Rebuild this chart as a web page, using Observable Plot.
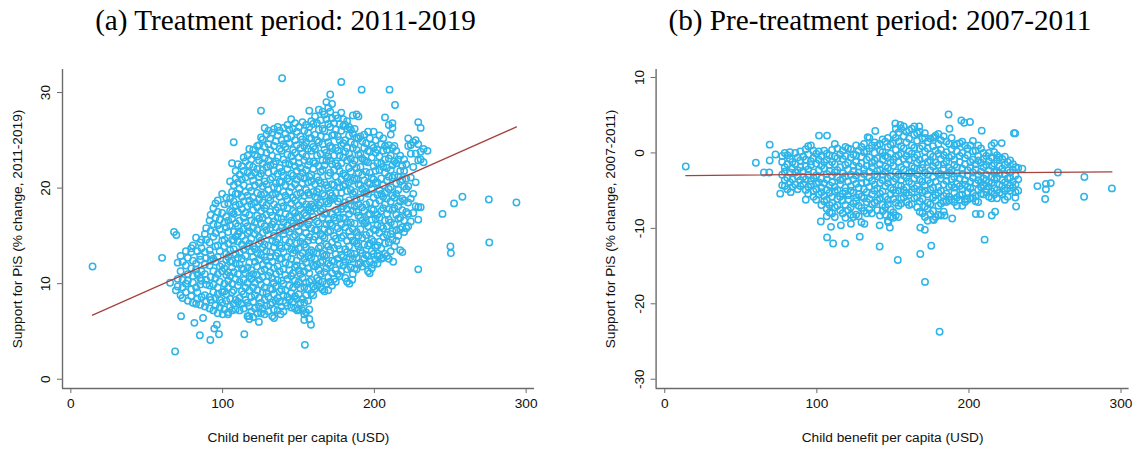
<!DOCTYPE html>
<html>
<head>
<meta charset="utf-8">
<script src="https://cdn.jsdelivr.net/npm/d3@7"></script>
<script src="https://cdn.jsdelivr.net/npm/@observablehq/plot@0.6"></script>
<style>
  body { margin: 0; background: white; }
  #chart { display: flex; width: 1140px; height: 453px; }
  #chart svg { display: block; }
</style>
</head>
<body>
<div id="chart"></div>
<script>
// tick values and labels
const benefitTicks = [0, 100, 200, 300];
const supportTicksA = [0, 10, 20, 30];
const supportTicksB = [10, 0, -10, -20, -30];
const xLabel = "Child benefit per capita (USD)";

// fitted lines (end points at min / max benefit)
const fitA = [[14.3, 6.7], [293.6, 26.4]];
const fitB = [[13.8, -3.0], [294.0, -2.5]];

// panel (a): isolated municipalities
const outliersA = [
  [14.3, 11.8], [60.1, 12.7], [65.4, 10.1], [68.0, 15.4], [69.5, 15.1], [69.2, 9.3],
  [72.6, 6.6], [68.7, 2.9], [81.4, 5.9], [85.0, 4.6], [91.9, 4.1], [97.6, 4.7],
  [96.2, 5.7], [94.5, 5.3], [87.1, 6.4], [114.3, 4.7], [154.2, 3.6], [158.2, 5.7],
  [210.0, 30.3], [213.6, 28.7], [244.9, 17.3], [252.5, 18.4], [258.0, 19.1],
  [275.4, 18.8], [293.6, 18.5], [275.7, 14.3], [250.1, 13.9], [250.4, 13.2],
  [212.4, 12.3], [202.1, 12.1], [196.9, 11.1], [185.4, 10.4], [183.5, 10.0],
  [149.2, 7.2], [138.2, 6.8], [133.9, 6.4], [123.9, 6.0], [117.4, 6.6], [100.0, 6.8], [103.6, 6.8]
];

// panel (a): the main cloud, grouped by benefit (x) with the support values (y) at that x
const columnsA = [
  [70.4, [9.7, 10.5, 12.2]],
  [72.3, [8.8, 11.3, 12.9]],
  [73.6, [8.5, 9.6, 10.4, 12.3]],
  [75.8, [9.1, 10.0, 11.9, 13.4]],
  [77.1, [8.2, 10.3, 11.0, 12.7]],
  [79.3, [8.7, 9.4, 11.6, 13.3, 13.7]],
  [80.4, [8.0, 10.1, 10.8, 12.4, 14.0]],
  [82.5, [7.9, 9.6, 11.5, 12.1, 14.8]],
  [83.4, [8.4, 9.1, 11.0, 13.4]],
  [85.2, [7.8, 9.9, 10.6, 12.5, 12.9, 14.3]],
  [86.1, [8.6, 10.3, 11.3, 13.7, 14.6]],
  [88.3, [7.6, 8.8, 11.0, 12.0, 13.3, 15.2]],
  [89.2, [8.1, 9.9, 10.4, 12.7, 14.6, 15.8]],
  [91.4, [7.4, 8.6, 9.8, 11.9, 13.5, 14.3, 16.6]],
  [92.1, [8.3, 10.7, 12.4, 13.0, 15.5, 17.2]],
  [93.9, [7.2, 9.1, 9.9, 11.3, 12.6, 14.9, 16.2, 17.9]],
  [95.3, [7.7, 8.5, 10.6, 12.3, 13.9, 15.3, 16.9, 18.4]],
  [96.8, [6.9, 8.9, 9.6, 11.0, 12.8, 14.0, 16.1, 17.5, 18.7]],
  [98.1, [7.5, 8.3, 10.2, 11.8, 13.4, 15.7, 16.7]],
  [99.7, [8.0, 9.1, 11.3, 12.0, 14.5, 15.1, 17.4, 19.4]],
  [101.2, [7.3, 9.2, 10.0, 11.6, 13.9, 14.6, 16.4, 18.3]],
  [102.4, [8.2, 8.9, 10.9, 12.5, 13.1, 15.9, 17.0, 19.0]],
  [103.7, [7.0, 9.6, 10.3, 11.2, 12.8, 14.2, 15.4, 16.6, 18.4]],
  [104.9, [7.6, 8.4, 10.8, 12.3, 13.5, 16.1, 17.6, 18.9, 20.7]],
  [106.2, [7.2, 9.1, 10.0, 11.7, 12.4, 14.6, 16.8, 17.5, 19.6, 22.6]],
  [107.3, [7.9, 9.3, 11.2, 13.6, 14.5, 15.4, 17.3, 18.6, 20.3, 24.8]],
  [108.6, [7.3, 8.3, 10.5, 12.1, 13.1, 14.9, 16.3, 18.2, 19.4, 21.0, 21.8]],
  [110.1, [8.1, 9.8, 11.0, 12.7, 14.4, 15.2, 16.0, 17.5, 19.4, 20.6, 22.5]],
  [111.2, [7.2, 8.5, 10.2, 12.0, 13.3, 15.5, 16.6, 18.3, 19.9, 21.4]],
  [112.7, [7.9, 9.2, 11.6, 12.6, 14.1, 15.0, 17.8, 19.1, 20.9, 22.3]],
  [113.9, [7.4, 8.9, 10.4, 11.5, 13.6, 15.7, 16.9, 18.6, 20.3, 21.8, 23.2]],
  [115.1, [8.3, 9.6, 11.1, 12.9, 14.5, 16.4, 17.4, 19.6, 21.1, 22.8]],
  [116.4, [6.6, 8.0, 10.1, 11.7, 13.9, 15.3, 16.0, 18.1, 19.2, 21.6, 23.4]],
  [117.6, [6.3, 7.6, 9.3, 10.8, 12.2, 14.2, 15.5, 17.2, 18.7, 20.1, 22.4, 24.1]],
  [118.9, [7.1, 8.6, 10.5, 11.4, 13.4, 14.7, 16.6, 18.3, 19.7, 21.3, 23.0]],
  [120.1, [6.5, 8.1, 9.6, 11.0, 12.8, 13.9, 15.9, 17.7, 19.0, 20.8, 22.2, 24.0]],
  [121.3, [7.4, 8.8, 10.1, 12.3, 13.6, 15.2, 16.4, 18.5, 20.3, 21.6, 23.5]],
  [122.8, [6.9, 9.3, 10.9, 11.8, 13.2, 15.6, 17.1, 18.0, 19.5, 22.0, 23.3, 24.4]],
  [124.0, [7.6, 8.5, 10.4, 12.5, 14.2, 14.9, 16.8, 18.8, 20.5, 21.2, 22.9, 24.5]],
  [125.3, [6.9, 8.0, 9.9, 11.3, 13.0, 14.5, 16.3, 17.6, 19.3, 21.5, 23.8, 25.3, 28.1]],
  [126.4, [7.4, 9.1, 10.7, 12.0, 13.8, 15.3, 16.9, 18.5, 20.2, 21.9, 22.6, 25.1]],
  [127.7, [6.8, 8.3, 9.6, 11.5, 12.8, 14.1, 16.0, 17.9, 19.4, 20.7, 23.1, 24.3, 26.3]],
  [128.9, [7.7, 9.0, 10.2, 12.4, 13.4, 15.6, 17.2, 18.2, 20.4, 22.2, 23.7, 25.6]],
  [130.2, [7.1, 8.6, 10.8, 11.9, 14.0, 15.1, 16.6, 19.0, 19.8, 21.6, 22.9, 24.6, 26.0]],
  [131.4, [7.8, 9.5, 11.2, 12.8, 13.3, 15.8, 17.5, 18.7, 20.9, 22.4, 24.0, 25.2]],
  [132.7, [6.6, 8.0, 9.4, 10.6, 12.3, 14.5, 16.2, 17.1, 19.3, 21.1, 23.4, 25.8]],
  [133.8, [7.3, 8.9, 10.1, 11.6, 13.8, 15.0, 16.5, 18.3, 20.1, 21.8, 22.5, 24.4, 26.2]],
  [135.1, [8.2, 9.7, 11.0, 12.9, 14.3, 15.9, 17.7, 19.4, 20.5, 22.8, 24.9]],
  [136.3, [7.2, 8.5, 10.4, 11.8, 13.2, 14.7, 16.9, 18.0, 19.9, 21.5, 23.2, 25.5, 26.4]],
  [137.6, [8.1, 9.2, 11.3, 12.6, 14.0, 15.5, 17.4, 19.1, 20.7, 22.1, 24.1, 26.0]],
  [138.8, [7.6, 9.4, 10.3, 12.6, 13.7, 15.9, 16.8, 18.5, 20.6, 21.7, 23.9, 25.0]],
  [139.2, [31.5]],
  [140.1, [7.1, 8.8, 10.0, 11.5, 13.3, 15.2, 16.4, 18.1, 19.6, 21.3, 23.0, 24.6, 26.3]],
  [141.4, [8.0, 9.3, 10.9, 12.2, 14.6, 15.6, 17.3, 19.2, 20.3, 22.6, 24.3, 25.7]],
  [142.7, [7.7, 8.6, 10.5, 12.8, 13.9, 16.1, 17.9, 18.8, 21.0, 22.0, 23.5, 25.2, 26.6]],
  [143.9, [8.3, 9.8, 11.4, 12.0, 14.3, 15.4, 17.0, 19.6, 20.7, 22.5, 24.7, 26.1]],
  [145.2, [7.5, 9.0, 10.8, 12.6, 13.6, 15.8, 16.6, 18.4, 20.1, 21.5, 23.3, 25.4, 27.2]],
  [146.4, [8.1, 9.6, 11.1, 13.2, 14.9, 16.3, 17.6, 19.0, 21.3, 22.8, 24.0, 26.2]],
  [147.7, [7.4, 8.7, 10.3, 11.7, 13.5, 15.1, 17.4, 18.7, 20.4, 22.3, 23.7, 25.0, 26.8]],
  [148.9, [8.4, 9.9, 11.9, 12.4, 14.2, 16.0, 16.9, 19.3, 20.9, 21.8, 24.5, 25.9]],
  [150.2, [7.3, 8.9, 10.2, 11.4, 13.7, 15.5, 17.0, 18.2, 20.0, 22.6, 23.2, 26.4]],
  [151.3, [8.0, 9.5, 11.0, 12.9, 14.4, 16.3, 17.8, 19.5, 21.2, 22.1, 24.2, 25.4]],
  [152.6, [7.2, 8.4, 10.6, 11.8, 13.2, 14.8, 16.6, 18.6, 20.5, 21.6, 23.6, 25.1, 26.9]],
  [153.8, [6.2, 6.8, 8.0, 9.6, 11.3, 12.6, 14.1, 15.9, 17.4, 19.2, 21.0, 22.9, 24.4, 26.0]],
  [155.0, [7.0, 8.8, 10.1, 12.2, 13.8, 15.3, 17.1, 18.3, 19.8, 21.9, 23.3, 24.8, 26.6]],
  [156.3, [8.2, 9.4, 11.6, 12.9, 14.5, 16.2, 17.7, 19.5, 20.6, 22.4, 24.1, 25.8]],
  [157.1, [6.3, 7.3, 10.2, 11.1, 13.3, 14.9, 16.6, 18.0, 19.3, 21.2, 22.8, 25.2, 26.4, 28.1]],
  [158.4, [9.0, 10.4, 12.7, 13.5, 15.8, 17.6, 18.3, 20.7, 21.4, 23.9, 25.2, 27.0]],
  [159.7, [8.8, 9.7, 11.9, 13.3, 14.6, 17.0, 18.1, 19.6, 22.0, 22.8, 24.3, 26.7]],
  [160.9, [9.5, 11.8, 12.6, 14.9, 15.6, 17.9, 19.1, 20.4, 22.6, 24.1, 25.6, 27.5]],
  [162.2, [9.8, 10.6, 12.0, 13.2, 15.6, 16.5, 18.9, 19.6, 21.2, 23.4, 25.0, 26.8]],
  [163.4, [10.3, 11.4, 13.7, 14.5, 16.3, 18.2, 19.9, 20.8, 22.3, 24.8, 26.1, 28.2]],
  [164.6, [9.6, 11.0, 12.2, 13.9, 15.2, 17.6, 18.5, 20.5, 21.7, 23.6, 25.4, 27.1]],
  [165.9, [9.4, 10.2, 12.4, 13.1, 15.0, 16.9, 17.8, 19.4, 21.9, 22.9, 24.6, 26.2, 28.0]],
  [167.1, [9.2, 11.2, 12.9, 14.8, 15.7, 17.3, 19.2, 20.6, 22.4, 24.0, 26.0, 27.7]],
  [168.4, [10.0, 11.6, 13.0, 14.1, 16.2, 17.4, 18.6, 20.3, 22.9, 23.7, 25.3, 27.2, 29.0]],
  [169.6, [9.3, 10.7, 12.1, 13.9, 15.4, 16.7, 18.4, 20.0, 21.3, 23.3, 24.8, 26.7, 28.4]],
  [170.9, [10.2, 11.9, 13.5, 15.5, 16.3, 18.7, 19.5, 21.6, 22.9, 24.4, 26.4, 28.0, 29.8]],
  [172.1, [9.8, 11.1, 12.4, 14.3, 16.1, 17.3, 19.2, 20.4, 22.5, 24.2, 25.5, 27.3, 28.8]],
  [173.4, [10.5, 12.3, 13.7, 15.0, 16.9, 18.9, 20.3, 21.9, 23.4, 25.6, 26.8]],
  [174.6, [10.2, 11.4, 13.1, 14.7, 16.6, 17.7, 19.5, 21.2, 22.6, 24.2, 26.1, 27.6]],
  [175.9, [11.0, 12.6, 14.0, 15.8, 17.5, 18.6, 20.6, 22.3, 23.9, 25.4, 27.3]],
  [177.1, [10.8, 12.1, 13.6, 15.4, 16.8, 18.9, 20.1, 21.8, 23.4, 25.0, 26.7]],
  [178.2, [11.3, 13.0, 14.8, 16.2, 17.8, 19.5, 20.9, 22.6, 24.5, 26.0, 27.9, 31.1]],
  [179.5, [11.9, 12.8, 15.0, 16.9, 18.1, 20.2, 21.5, 23.2, 24.7, 26.5, 27.2]],
  [180.8, [10.6, 12.3, 13.6, 15.9, 16.8, 18.5, 20.4, 21.3, 23.8, 25.0, 26.6]],
  [182.0, [10.2, 11.5, 13.3, 14.5, 16.4, 17.8, 19.7, 21.1, 22.9, 24.2, 26.2, 27.0]],
  [183.3, [12.5, 13.9, 15.5, 17.3, 18.7, 20.6, 22.1, 23.6, 25.5, 26.4]],
  [184.5, [11.7, 13.2, 14.9, 16.4, 18.2, 19.8, 21.7, 23.1, 24.8, 26.1]],
  [185.8, [11.0, 12.6, 14.5, 15.7, 17.6, 19.4, 20.8, 22.5, 24.2, 25.7, 27.6]],
  [187.0, [11.6, 13.1, 14.4, 16.3, 18.1, 19.6, 21.0, 22.9, 24.6, 26.2]],
  [188.3, [11.5, 12.7, 14.2, 15.4, 17.5, 18.8, 20.9, 22.1, 24.0, 25.3, 27.7]],
  [189.5, [12.0, 13.9, 15.0, 17.1, 18.3, 20.4, 21.6, 23.5, 25.2, 27.5]],
  [190.8, [12.2, 13.5, 15.7, 16.9, 19.0, 20.3, 22.2, 23.6, 25.4]],
  [191.6, [30.3]],
  [192.0, [11.8, 13.2, 14.8, 16.6, 18.0, 19.9, 21.4, 23.1, 24.9]],
  [193.3, [12.6, 14.1, 16.3, 17.6, 19.5, 20.8, 22.9, 24.2, 25.6]],
  [194.5, [12.1, 13.0, 15.1, 16.4, 18.3, 19.6, 21.7, 22.8, 24.7]],
  [195.8, [11.3, 12.9, 14.0, 16.0, 17.2, 19.4, 20.6, 22.7, 23.9, 25.9]],
  [197.0, [12.3, 14.2, 15.3, 17.3, 18.5, 20.4, 21.6, 23.8, 25.2]],
  [198.3, [11.6, 13.4, 14.6, 16.7, 17.8, 19.9, 21.1, 23.2, 24.5]],
  [199.5, [12.0, 13.1, 14.4, 15.7, 17.7, 19.0, 20.9, 22.3, 24.2, 25.9]],
  [200.8, [12.5, 13.8, 15.6, 16.8, 18.4, 20.5, 21.8, 23.7, 25.0]],
  [202.0, [12.9, 14.0, 16.1, 17.2, 19.3, 20.6, 22.6, 24.0]],
  [203.3, [12.9, 14.4, 15.3, 16.9, 18.7, 19.8, 21.9, 23.3, 25.5]],
  [204.5, [12.6, 13.7, 16.0, 17.6, 19.4, 21.0, 22.6, 24.6]],
  [205.8, [12.7, 14.9, 15.8, 17.9, 19.1, 20.3, 22.2, 23.9, 25.2]],
  [207.0, [13.1, 14.2, 16.6, 18.3, 19.5, 21.6, 23.0, 24.4, 27.4]],
  [208.3, [12.9, 15.1, 16.0, 17.3, 18.9, 20.8, 22.1, 24.0]],
  [209.5, [12.6, 14.3, 16.7, 17.8, 19.9, 21.2, 23.1, 24.5, 26.6]],
  [210.8, [13.4, 15.2, 16.4, 18.6, 20.1, 21.9, 23.4, 25.6]],
  [211.9, [14.6, 15.5, 17.7, 19.2, 21.1, 22.4, 24.2, 26.3, 26.8]],
  [213.2, [13.9, 16.2, 17.9, 19.0, 21.3, 22.8, 24.4]],
  [214.4, [14.5, 15.6, 17.2, 19.4, 20.5, 22.6, 23.9]],
  [215.7, [15.0, 16.8, 18.1, 19.8, 21.2, 23.0]],
  [217.0, [13.5, 15.7, 16.9, 18.6, 20.7, 21.8, 23.4]],
  [218.4, [13.3, 15.9, 17.7, 18.9, 20.9, 22.3]],
  [219.6, [15.4, 16.6, 18.7, 20.2, 21.8, 23.0]],
  [221.0, [15.8, 17.5, 19.9, 21.0, 22.5]],
  [222.3, [16.0, 17.3, 18.5, 20.2, 24.4, 25.2]],
  [224.0, [16.5, 18.9, 21.1, 23.6, 24.5]],
  [225.6, [17.4, 19.4, 22.2, 24.8]],
  [227.2, [18.1, 20.6, 23.6, 25.0]],
  [228.9, [11.5, 16.7, 18.0, 22.9, 24.6, 26.9]],
  [230.5, [18.0, 23.0, 23.8, 26.3]],
  [232.4, [22.7, 24.1]],
  [235.0, [23.9]]
];

// panel (b): isolated municipalities
const outliersB = [
  [13.8, -1.8], [59.9, -1.3], [65.2, -2.6], [68.7, -2.6], [69.0, -1.0], [69.0, 1.1],
  [72.8, -0.2], [75.9, -5.4], [82.8, -5.2], [101.4, 2.3], [106.7, 2.3], [102.6, -9.1],
  [106.7, -11.2], [110.7, -12.0], [118.6, -12.0], [128.2, -11.1], [141.3, -12.4],
  [153.2, -14.2], [168.0, -13.4], [175.2, -12.3], [171.1, -17.1], [180.7, -23.7],
  [210.3, -11.5], [215.0, -8.3], [217.2, -7.8], [207.6, -8.1], [204.5, -8.1],
  [231.0, -7.1], [230.5, -5.9], [245.0, -4.4], [250.6, -4.1], [250.6, -4.8], [250.1, -6.1],
  [253.8, -4.0], [258.5, -2.6], [275.9, -3.2], [275.7, -5.8], [294.0, -4.7], [235.1, -2.1],
  [229.6, 2.6], [230.4, 2.6], [208.4, 2.95], [186.6, 5.1], [195.0, 4.3], [200.7, 4.1],
  [196.9, 4.0], [221.5, 1.3], [151.6, 3.9], [154.9, 3.7], [138.4, 2.9], [133.4, 2.1],
  [167.3, 3.5], [171.0, 2.6], [177.3, 2.1], [187.2, 3.2], [168.0, -9.9], [171.0, -10.2],
  [176.8, -8.9], [148.0, -9.9], [147.0, -9.2], [141.3, -9.6], [131.3, -9.4], [122.4, -9.4],
  [115.8, -9.6], [109.3, -9.8], [189.0, -8.7], [184.0, -8.3]
];

// panel (b): the main cloud, grouped by benefit (x)
const columnsB = [
  [77.2, [-0.4, -1.2, -2.9, -4.3]],
  [78.9, [0.0, -1.9, -2.5, -3.6, -4.4]],
  [80.6, [-0.3, -1.5, -3.3, -4.8]],
  [82.3, [0.1, -0.8, -2.6, -3.9]],
  [83.9, [-1.2, -2.1, -3.5, -4.5]],
  [85.8, [0.0, -1.5, -2.6, -4.2]],
  [87.4, [-0.6, -2.3, -3.1, -4.8]],
  [89.1, [0.2, -1.0, -1.9, -3.6, -4.4]],
  [91.0, [-0.5, -2.4, -3.2, -4.1]],
  [92.7, [0.5, -0.9, -1.8, -3.5, -4.9, -6.2]],
  [94.3, [0.9, -0.2, -2.2, -2.9, -4.5, -5.4]],
  [96.1, [1.0, -1.1, -1.6, -3.7, -4.2]],
  [97.8, [0.3, -0.7, -2.6, -3.3, -5.1, -5.8]],
  [99.6, [-0.1, -1.4, -3.0, -4.1, -4.8, -6.2]],
  [101.3, [0.2, -0.9, -2.3, -3.9, -5.5]],
  [103.0, [-0.4, -1.7, -3.4, -4.6, -5.2, -6.9]],
  [104.8, [0.3, -1.2, -2.1, -4.0, -5.7, -6.4]],
  [106.5, [-0.1, -0.9, -2.8, -3.5, -4.9, -6.2, -7.4, -8.4]],
  [108.3, [-0.3, -1.6, -2.4, -4.3, -5.3, -6.9, -7.9]],
  [110.0, [0.4, -1.2, -3.0, -3.9, -5.8, -6.6, -8.0]],
  [111.8, [1.2, -0.5, -1.5, -2.6, -4.5, -5.1, -7.2, -8.5]],
  [113.5, [0.6, -0.7, -2.3, -3.2, -4.9, -6.1, -7.0]],
  [115.3, [-0.2, -1.9, -3.6, -4.2, -5.8, -7.6]],
  [117.0, [0.3, -0.8, -2.7, -3.4, -5.4, -6.3, -8.0]],
  [118.8, [0.8, -0.4, -1.6, -3.1, -4.6, -5.1, -6.9, -8.6]],
  [120.5, [0.6, -1.3, -2.2, -3.8, -5.6, -6.2, -7.6]],
  [122.3, [0.5, -0.6, -2.9, -4.4, -5.0, -7.2, -8.2]],
  [124.0, [-0.2, -1.7, -2.4, -3.5, -5.3, -6.7, -8.5]],
  [125.8, [1.0, -0.3, -1.2, -3.0, -4.1, -5.9, -6.4, -8.2]],
  [127.5, [0.3, -1.8, -2.6, -4.6, -5.5, -7.0, -8.4]],
  [129.3, [0.8, -0.5, -1.4, -3.3, -4.0, -5.8, -7.3, -9.2]],
  [131.0, [1.2, 0.1, -2.2, -2.8, -4.8, -6.0, -7.7]],
  [132.8, [0.2, -0.9, -1.7, -3.9, -5.2, -6.5, -8.0]],
  [134.5, [2.0, 0.6, -0.6, -2.5, -3.3, -4.5, -6.1, -7.5]],
  [136.2, [1.0, -1.3, -1.9, -3.7, -5.5, -6.8, -8.0]],
  [138.0, [1.4, 0.0, -1.0, -2.9, -4.2, -5.0, -6.6]],
  [139.7, [1.0, -0.7, -2.4, -3.1, -4.7, -6.3, -7.6]],
  [141.5, [1.2, 0.3, -1.5, -2.2, -4.0, -5.4, -6.0, -8.3]],
  [143.2, [1.8, 0.1, -0.9, -2.9, -3.6, -5.1, -6.9, -7.7]],
  [145.0, [1.5, -0.4, -1.8, -2.5, -4.4, -5.8, -7.2, -8.2]],
  [146.7, [2.0, 0.8, -0.6, -2.0, -3.4, -4.0, -6.2, -6.8, -9.0]],
  [148.5, [1.1, -0.1, -1.3, -3.0, -4.6, -5.5, -7.5, -8.5]],
  [150.2, [2.4, 1.3, -0.9, -1.7, -3.8, -4.9, -6.1, -7.9, -8.6]],
  [151.9, [3.2, 2.0, 0.4, -0.5, -2.6, -3.4, -5.3, -6.6, -8.3]],
  [153.7, [2.7, 1.5, -0.3, -1.2, -2.9, -4.3, -5.0, -7.0, -8.5]],
  [155.4, [3.2, 0.9, -0.1, -1.9, -3.6, -4.4, -6.1, -6.7]],
  [157.1, [3.5, 2.2, 0.6, -0.8, -2.2, -3.0, -4.9, -5.9]],
  [158.9, [2.8, 1.4, -0.4, -1.5, -3.3, -4.6, -5.3, -6.5]],
  [160.6, [3.0, 1.9, 0.2, -0.9, -2.7, -3.8, -5.6, -6.9]],
  [162.4, [3.2, 1.0, -0.1, -1.8, -2.5, -4.1, -5.2, -6.8]],
  [164.1, [3.5, 2.4, 0.7, -0.6, -2.0, -3.4, -4.7, -6.0]],
  [165.9, [2.6, 1.6, -0.3, -1.3, -2.9, -4.4, -5.9, -7.2]],
  [167.6, [2.8, 0.6, -0.9, -2.3, -3.5, -4.9, -6.4, -7.8]],
  [169.4, [1.9, 0.9, -1.5, -2.0, -3.8, -5.2, -6.1, -8.0]],
  [171.1, [2.0, 0.2, -0.7, -2.6, -4.3, -5.0, -7.1, -8.5]],
  [172.9, [1.5, 0.6, -1.2, -2.9, -3.6, -5.5, -6.6, -7.4, -9.0]],
  [174.6, [1.9, -0.2, -1.0, -2.3, -4.0, -4.9, -6.8, -8.1]],
  [176.4, [2.0, 0.9, -0.5, -1.8, -3.2, -4.6, -5.9, -7.7, -8.8]],
  [178.1, [2.3, 0.3, -1.3, -2.5, -3.8, -5.6, -6.3, -8.5]],
  [179.9, [2.5, 1.2, -0.1, -1.6, -2.8, -4.5, -5.3, -7.0, -8.2]],
  [181.6, [1.7, 0.4, -0.8, -2.9, -3.4, -5.0, -6.7, -8.3]],
  [183.4, [2.2, -0.3, -1.5, -2.1, -4.2, -5.7, -6.4, -7.8]],
  [185.1, [1.5, 0.1, -1.1, -3.0, -3.7, -5.4, -6.5]],
  [186.9, [1.2, -0.6, -2.0, -2.6, -4.5, -5.8, -6.3]],
  [188.6, [2.0, 0.5, -0.4, -2.3, -3.5, -4.3, -6.2]],
  [190.4, [1.0, -0.9, -1.6, -3.2, -4.6, -5.3, -6.5]],
  [192.1, [1.2, 0.2, -1.9, -2.7, -4.1, -5.9, -7.0]],
  [193.9, [1.3, -0.4, -1.2, -3.4, -4.4, -5.6, -6.2]],
  [195.6, [1.5, 0.0, -2.1, -2.8, -4.8, -5.5, -7.0]],
  [197.4, [1.0, -0.7, -1.5, -3.6, -4.2, -6.1, -6.5]],
  [199.1, [0.6, -0.3, -2.3, -3.0, -4.5, -5.2, -6.2]],
  [200.9, [1.0, -1.2, -1.9, -3.8, -4.7, -6.0]],
  [202.6, [1.6, 0.2, -0.9, -2.6, -3.3, -5.3, -6.0]],
  [204.4, [0.3, -1.5, -2.2, -4.0, -5.7, -6.4]],
  [206.1, [1.0, -0.4, -1.0, -2.9, -3.6, -4.9, -6.5]],
  [207.9, [0.6, -1.3, -2.5, -3.9, -4.5, -5.4]],
  [209.6, [0.0, -0.8, -1.9, -3.4, -4.3, -5.5]],
  [211.4, [-0.4, -1.6, -2.9, -3.6, -4.8, -5.2]],
  [213.1, [0.0, -1.1, -2.3, -3.9, -4.5, -5.8]],
  [214.9, [1.0, -0.6, -1.7, -3.2, -4.0, -5.1, -6.0]],
  [216.6, [1.3, 0.1, -1.4, -2.6, -3.5, -4.7, -5.5]],
  [218.4, [-0.3, -0.9, -2.4, -3.3, -4.9, -6.0]],
  [220.1, [-0.6, -1.8, -2.7, -4.2, -5.3]],
  [221.9, [-0.8, -2.1, -3.6, -4.4, -5.5]],
  [223.6, [-0.5, -1.6, -2.8, -3.9, -5.0, -6.2]],
  [225.4, [-1.2, -2.3, -3.4, -4.7, -5.8]],
  [227.1, [-1.0, -2.6, -3.3, -4.3, -5.0]],
  [228.9, [-1.5, -2.2, -3.8, -4.6]],
  [230.6, [-1.9, -3.0, -4.2, -5.2]],
  [232.4, [-2.0, -3.5, -5.0]]
];

function toPoints(columns, outliers) {
  return columns
    .flatMap(([x, ys]) => ys.map(y => ({x, y})))
    .concat(outliers.map(([x, y]) => ({x, y})));
}

const axisColor = "#6b6b6b";

function panel(o) {
  return Plot.plot({
    width: 570,
    height: 453,
    marginLeft: o.marginLeft,
    marginRight: o.marginRight,
    marginTop: 69,
    marginBottom: 65,
    x: {domain: o.xDomain},
    y: {domain: o.yDomain},
    style: {
      fontFamily: "'Liberation Sans', Arial, sans-serif",
      fontSize: "13.7px",
      color: "#111",
      background: "white",
      overflow: "visible"
    },
    marks: [
      Plot.dot(o.points, {x: "x", y: "y", r: 3.2, stroke: "#2db4e8", strokeWidth: 1.5, fill: "none"}),
      Plot.line(o.fit, {x: d => d[0], y: d => d[1], stroke: "#a4423f", strokeWidth: 1.3}),
      Plot.ruleX([o.xDomain[0]], {stroke: axisColor, strokeWidth: 1.4}),
      Plot.ruleY([o.yDomain[0]], {stroke: axisColor, strokeWidth: 1.4}),
      Plot.axisX({ticks: benefitTicks, tickSize: 5, tickPadding: 5, stroke: axisColor, fill: "#111", label: null}),
      Plot.axisY({ticks: o.yTicks, tickSize: 5, tickFormat: () => "", stroke: axisColor, label: null}),
      Plot.text(o.yTicks, {
        y: d => d, text: d => String(d), frameAnchor: "left", textAnchor: "middle",
        rotate: -90, dx: -16.5, fill: "#111"
      }),
      Plot.text([o.yLabel], {frameAnchor: "left", textAnchor: "middle", rotate: -90, dx: -45, fill: "#111"}),
      Plot.text([xLabel], {frameAnchor: "bottom", lineAnchor: "middle", dy: 49, fill: "#111"}),
      Plot.text([o.title], {
        frameAnchor: "top", dx: o.titleDx, dy: -39.5, lineAnchor: "bottom",
        fontFamily: "'Liberation Serif', 'Times New Roman', serif", fontSize: 29.2, fill: "#000"
      })
    ]
  });
}

const chartA = panel({
  points: toPoints(columnsA, outliersA),
  fit: fitA,
  xDomain: [-5.5, 305.5],
  yDomain: [-0.97, 32.41],
  yTicks: supportTicksA,
  marginLeft: 62,
  marginRight: 36,
  yLabel: "Support for PiS (% change, 2011-2019)",
  title: "(a) Treatment period: 2011-2019",
  titleDx: -13
});

const chartB = panel({
  points: toPoints(columnsB, outliersB),
  fit: fitB,
  xDomain: [-5.7, 305.3],
  yDomain: [-31.23, 11.06],
  yTicks: supportTicksB,
  marginLeft: 85.6,
  marginRight: 11.4,
  yLabel: "Support for PiS (% change, 2007-2011)",
  title: "(b) Pre-treatment period: 2007-2011",
  titleDx: -12.7
});

d3.select("#chart").append(() => chartA);
d3.select("#chart").append(() => chartB);
</script>
</body>
</html>
